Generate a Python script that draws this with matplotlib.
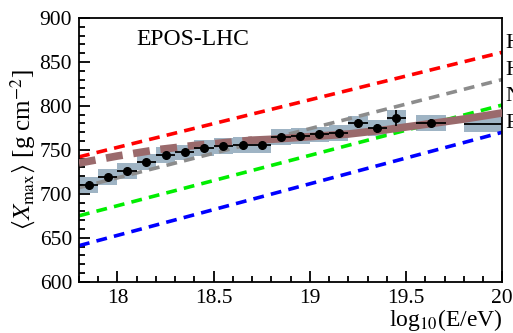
import numpy as np
import matplotlib
matplotlib.use("Agg")
import matplotlib.pyplot as plt
from matplotlib.ticker import MultipleLocator

plt.rcParams['font.family'] = ['Liberation Serif', 'DejaVu Serif']
plt.rcParams['mathtext.fontset'] = 'stix'

# measured <Xmax> per energy bin
lgE = [17.85, 17.95, 18.05, 18.15, 18.25, 18.35, 18.45, 18.55, 18.65, 18.75,
       18.85, 18.95, 19.05, 19.15, 19.25, 19.35, 19.45, 19.63, 20.1]
xmax = [710, 719.5, 726, 736.5, 744, 747, 752, 754.5, 755.5, 755.5,
        765, 766, 767.5, 769, 780, 774.5, 786.5, 781, 779.5]
stat = [4, 3, 3, 3, 3, 3, 3, 3, 3, 3, 3, 3, 3, 4, 5, 5, 9, 4, 6]
xwidth = [0.05] * 17 + [0.08, 0.3]
sys_err = [9, 9, 9, 9, 9, 9, 9, 9, 9, 9, 9, 9, 9, 9, 9, 9, 9, 9, 9]

# pure composition predictions (EPOS-LHC)
pred_x = [17.8, 20.0]
proton = [742, 861]
helium = [707, 830]
nitrogen = [675, 801]
iron = [641, 770]

# fitted mixed composition
fit_x = [17.8, 18.0, 18.2, 18.4, 18.6, 18.7, 18.8, 19.0, 19.2, 19.4, 19.6, 19.8, 20.0]
fit_y = [735, 743, 750, 755, 759, 761, 762, 765, 768, 773, 779, 785, 792]

fig = plt.figure(figsize=(5.13, 3.33), dpi=100)
ax = fig.add_axes([0.154, 0.154, 0.825, 0.792])

# systematic boxes
for x, y, w, s in zip(lgE, xmax, xwidth, sys_err):
    ax.add_patch(plt.Rectangle((x - w, y - s), 2 * w, 2 * s,
                               color='#9fb4c4', lw=0, zorder=1))

lw = 2.6
ax.plot(pred_x, proton, color='#ff0000', ls=(0, (3, 2)), lw=lw, zorder=2)
ax.plot(pred_x, helium, color='#8c8c8c', ls=(0, (3, 2)), lw=lw, zorder=2)
ax.plot(pred_x, nitrogen, color='#00ee00', ls=(0, (3, 2)), lw=lw, zorder=2)
ax.plot(pred_x, iron, color='#0000ff', ls=(0, (3, 2)), lw=lw, zorder=2)

# fit: dashed below 18.7, solid above
ax.plot(fit_x[:6], fit_y[:6], color='#9a6a6c', ls=(0, (2.2, 1.4)), lw=5.5, zorder=3)
ax.plot(fit_x[5:], fit_y[5:], color='#9a6a6c', ls='-', lw=5.5, zorder=3)

ax.errorbar(lgE, xmax, yerr=stat, xerr=xwidth, fmt='o', color='black',
            ms=5.5, elinewidth=1.3, capsize=0, zorder=4)

# element labels, partly outside the figure as in the original
for name, vals in zip(['H', 'He', 'N', 'Fe'], [proton, helium, nitrogen, iron]):
    ax.text(20.015, vals[1] + 10, name, fontsize=16, va='center', ha='left',
            clip_on=False)

ax.text(18.1, 875, 'EPOS-LHC', fontsize=17, va='center', ha='left')

ax.set_xlim(17.8, 20)
ax.set_ylim(600, 900)
ax.xaxis.set_major_locator(MultipleLocator(0.5))
ax.xaxis.set_minor_locator(MultipleLocator(0.1))
ax.yaxis.set_major_locator(MultipleLocator(50))
ax.yaxis.set_minor_locator(MultipleLocator(10))
ax.xaxis.set_major_formatter(plt.FuncFormatter(lambda v, p: '%g' % v))
ax.tick_params(which='both', direction='in', top=False, right=False,
               labelsize=15.5, width=1.3)
ax.tick_params(which='major', length=8, pad=5)
ax.tick_params(which='minor', length=4)
for sp in ax.spines.values():
    sp.set_linewidth(1.3)

ax.set_ylabel(r'$\langle X_{\rm max}\rangle$ [g cm$^{-2}$]', fontsize=18, labelpad=1)
ax.set_xlabel(r'log$_{10}$(E/eV)', fontsize=17, labelpad=2)
ax.xaxis.set_label_coords(1.0, -0.095)
ax.xaxis.label.set_horizontalalignment('right')

fig.savefig('out.png', dpi=100)
